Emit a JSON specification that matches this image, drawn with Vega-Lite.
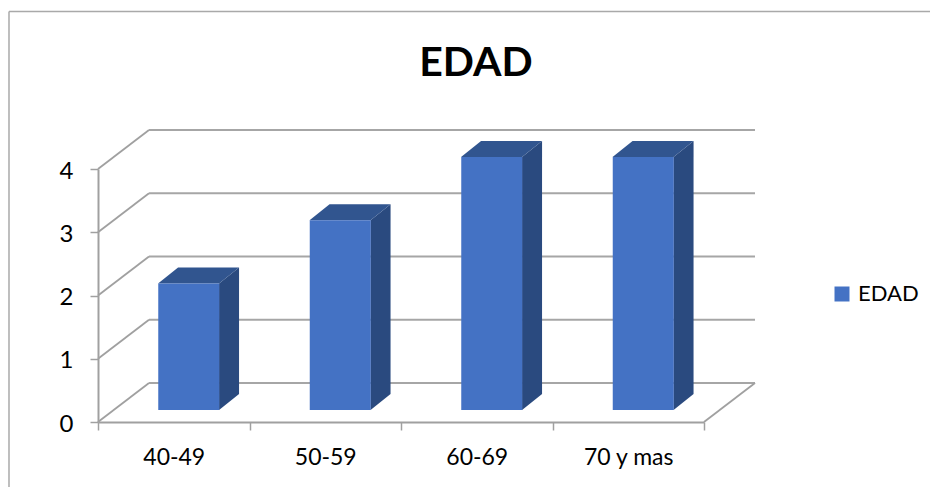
{
  "$schema": "https://vega.github.io/schema/vega-lite/v6.json",
  "width": 658,
  "height": 292,
  "autosize": "none",
  "padding": {"left": 98, "top": 130, "right": 174, "bottom": 65},
  "background": "#ffffff",
  "view": {"stroke": null},
  "config": {"font": "Lato"},
  "title": {
    "text": "EDAD",
    "font": "Lato",
    "fontSize": 41,
    "fontWeight": "bold",
    "color": "#000000",
    "anchor": "middle",
    "frame": "group",
    "dx": 49,
    "offset": -74
  },
  "datasets": {
    "edades": [
      {"categoria": "40-49", "pos": 0, "edad": 2, "serie": "EDAD"},
      {"categoria": "50-59", "pos": 1, "edad": 3, "serie": "EDAD"},
      {"categoria": "60-69", "pos": 2, "edad": 4, "serie": "EDAD"},
      {"categoria": "70 y mas", "pos": 3, "edad": 4, "serie": "EDAD"}
    ],
    "niveles": [{"nivel": 0}, {"nivel": 1}, {"nivel": 2}, {"nivel": 3}, {"nivel": 4}],
    "marco": [{"borde": "marco"}]
  },
  "resolve": {"scale": {"x": "independent"}},
  "layer": [
    {
      "layer": [
        {
          "description": "Outer chart border, left edge",
          "data": {"name": "marco"},
          "mark": {"type": "rule", "stroke": "#a9a9a9", "strokeWidth": 1.5},
          "encoding": {
            "x": {"datum": -0.5875, "type": "quantitative", "axis": null, "scale": {"domain": [0, 4], "range": [0, 606]}},
            "y": {"datum": 6.49, "type": "quantitative", "title": null},
            "y2": {"datum": -1.2}
          }
        },
        {
          "description": "Outer chart border, top edge",
          "data": {"name": "marco"},
          "mark": {"type": "rule", "stroke": "#a9a9a9", "strokeWidth": 1.5},
          "encoding": {
            "x": {"datum": -0.5875, "type": "quantitative", "axis": null},
            "x2": {"datum": 5.5},
            "y": {"datum": 6.49, "type": "quantitative", "title": null}
          }
        },
        {
          "description": "Gridlines on the left wall",
          "data": {"name": "niveles"},
          "transform": [{"calculate": "datum.nivel + 0.6166", "as": "fondo"}],
          "mark": {"type": "rule", "stroke": "#a0a0a0", "strokeWidth": 1.8},
          "encoding": {
            "x": {"datum": 0, "type": "quantitative", "axis": null},
            "x2": {"datum": 0.3366},
            "y": {"field": "nivel", "type": "quantitative", "title": null},
            "y2": {"field": "fondo"}
          }
        },
        {
          "description": "Gridlines on the back wall",
          "data": {"name": "niveles"},
          "transform": [{"calculate": "datum.nivel + 0.6166", "as": "fondo"}],
          "mark": {"type": "rule", "stroke": "#a6a6a6", "strokeWidth": 2},
          "encoding": {
            "x": {"datum": 0.3366, "type": "quantitative", "axis": null},
            "x2": {"datum": 4.3366},
            "y": {"field": "fondo", "type": "quantitative", "title": null}
          }
        },
        {
          "description": "Right edge of the floor",
          "data": {"name": "marco"},
          "mark": {"type": "rule", "stroke": "#a0a0a0", "strokeWidth": 1.8},
          "encoding": {
            "x": {"datum": 4, "type": "quantitative", "axis": null},
            "x2": {"datum": 4.3366},
            "y": {"datum": 0, "type": "quantitative", "title": null},
            "y2": {"datum": 0.6166}
          }
        },
        {
          "description": "Dark side face of each column",
          "data": {"name": "edades"},
          "transform": [
            {"calculate": "[0, 1]", "as": "paso"},
            {"flatten": ["paso"]},
            {"calculate": "datum.pos + 0.7990 + datum.paso * 0.132", "as": "xLado"},
            {"calculate": "datum.edad + 0.19 + datum.paso * 0.253", "as": "arriba"},
            {"calculate": "0.19 + datum.paso * 0.253", "as": "abajo"}
          ],
          "mark": {"type": "area", "fill": "#2a4a7f", "orient": "vertical", "interpolate": "linear"},
          "encoding": {
            "x": {"field": "xLado", "type": "quantitative", "axis": null},
            "y": {"field": "arriba", "type": "quantitative", "title": null, "stack": null},
            "y2": {"field": "abajo"},
            "detail": {"field": "categoria"}
          }
        },
        {
          "description": "Top face of each column",
          "data": {"name": "edades"},
          "transform": [
            {"calculate": "[0, 1]", "as": "paso"},
            {"flatten": ["paso"]},
            {"calculate": "datum.pos + 0.3964 + datum.paso * 0.132", "as": "xIzq"},
            {"calculate": "datum.xIzq + 0.4026", "as": "xDer"},
            {"calculate": "datum.edad + 0.19 + datum.paso * 0.253", "as": "alto"}
          ],
          "mark": {"type": "area", "fill": "#31558f", "orient": "horizontal", "interpolate": "linear"},
          "encoding": {
            "x": {"field": "xIzq", "type": "quantitative", "axis": null, "stack": null},
            "x2": {"field": "xDer"},
            "y": {"field": "alto", "type": "quantitative", "title": null},
            "detail": {"field": "categoria"}
          }
        }
      ]
    },
    {
      "description": "Front face of each column, with the category axis, value axis and legend",
      "data": {"name": "edades"},
      "mark": {"type": "bar", "width": 61, "xOffset": 15, "x2Offset": 15, "yOffset": -12, "y2Offset": -12},
      "encoding": {
        "x": {
          "field": "categoria",
          "type": "nominal",
          "sort": null,
          "title": null,
          "scale": {"type": "band", "range": [0, 606], "paddingInner": 0, "paddingOuter": 0},
          "axis": {
            "labelAngle": 0,
            "labelFontSize": 23,
            "labelFont": "Lato",
            "labelColor": "#000000",
            "labelPadding": 16,
            "tickBand": "extent",
            "tickSize": 8,
            "tickColor": "#a0a0a0",
            "tickWidth": 1.5,
            "domainColor": "#a0a0a0",
            "domainWidth": 2,
            "grid": false
          }
        },
        "y": {
          "field": "edad",
          "type": "quantitative",
          "title": null,
          "scale": {"domain": [0, 4], "range": [292, 39], "nice": false, "zero": false},
          "axis": {
            "values": [0, 1, 2, 3, 4],
            "format": "d",
            "labelFontSize": 24,
            "labelFont": "Lato",
            "labelColor": "#000000",
            "labelPadding": 17,
            "labelOffset": 2,
            "tickSize": 8,
            "tickColor": "#a0a0a0",
            "tickWidth": 1.5,
            "domainColor": "#a0a0a0",
            "domainWidth": 2,
            "grid": false
          }
        },
        "color": {
          "field": "serie",
          "type": "nominal",
          "scale": {"domain": ["EDAD"], "range": ["#4472c4"]},
          "legend": {
            "title": null,
            "orient": "none",
            "legendX": 733,
            "legendY": 153,
            "symbolType": "square",
            "symbolSize": 225,
            "symbolStrokeWidth": 0,
            "labelFontSize": 22,
            "labelFont": "Lato",
            "labelColor": "#000000",
            "labelOffset": 5
          }
        }
      }
    }
  ]
}
